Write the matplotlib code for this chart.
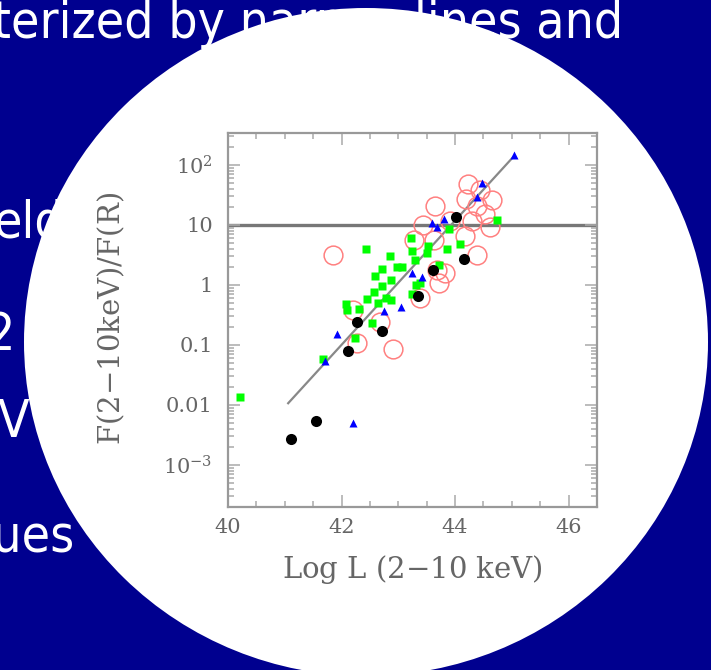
import matplotlib.pyplot as plt
from matplotlib.patches import Ellipse
from matplotlib.ticker import FixedLocator, LogLocator, MultipleLocator, NullFormatter

# Puntos del diagrama (log L, cociente de flujos)
negros_x = [41.11, 41.55, 42.11, 42.27, 42.72, 43.34, 43.61, 44.16, 44.02]
negros_y = [0.0027, 0.0055, 0.078, 0.24, 0.17, 0.66, 1.76, 2.7, 13.5]

azules_x = [45.04, 44.48, 44.39, 43.81, 43.59, 43.68, 43.24, 43.42, 43.05, 42.75, 41.92, 41.70, 42.21]
azules_y = [148, 51, 29, 12.6, 10.7, 9.1, 1.57, 1.35, 0.43, 0.37, 0.15, 0.055, 0.0051]

verdes_x = [40.21, 44.73, 43.90, 44.09, 43.85, 43.53, 43.50, 43.22, 43.24, 43.30,
            42.43, 42.85, 42.97, 43.06, 42.71, 42.59, 42.88, 42.72, 42.57, 42.44,
            43.71, 43.38, 43.24, 42.78, 42.88, 42.65, 42.08, 42.09, 42.31, 42.53,
            42.24, 41.68, 43.32]
verdes_y = [0.0138, 12.3, 8.5, 4.9, 4.0, 4.4, 3.4, 6.0, 3.7, 2.6,
            4.0, 3.0, 2.0, 2.0, 1.82, 1.43, 1.2, 0.95, 0.76, 0.59,
            2.14, 1.07, 0.72, 0.6, 0.56, 0.51, 0.49, 0.39, 0.4, 0.23,
            0.13, 0.058, 1.0]

rojos_x = [41.85, 42.91, 42.27, 42.68, 42.21, 43.38, 43.71, 43.82, 44.38, 43.27,
           43.65, 43.44, 44.23, 44.20, 44.65, 44.53, 44.62, 44.29, 44.18, 43.91,
           44.38, 44.44, 43.62, 43.68]
rojos_y = [3.2, 0.087, 0.107, 0.245, 0.38, 0.6, 1.07, 1.57, 3.2, 5.6,
           20.4, 10.0, 49, 27.5, 26.3, 15.5, 9.3, 11.5, 6.5, 11.5,
           20.4, 38, 5.6, 1.78]

# Recta de ajuste y límite horizontal
recta_x = [41.06, 45.03]
recta_y = [0.0107, 138]
limite_y = 10

# Ejes
ticks_y = [1e-3, 1e-2, 1e-1, 1, 10, 100]
etiquetas_y = [r'$10^{-3}$', '0.01', '0.1', '1', '10', r'$10^{2}$']
ticks_x = [40, 42, 44, 46]

azul = '#00008f'
gris = '#777777'

plt.rcParams['mathtext.fontset'] = 'dejavuserif'

fig = plt.figure(figsize=(7.11, 6.70), dpi=100, facecolor=azul)

# Fondo: texto de la diapositiva y la elipse blanca
fondo = fig.add_axes([0, 0, 1, 1])
fondo.set_xlim(0, 711)
fondo.set_ylim(670, 0)
fondo.axis('off')
fuente = dict(color='white', fontsize=37, family='DejaVu Sans',
              fontstretch='condensed', va='baseline')
fondo.text(623, 38, 'characterized by narrow lines and', ha='right', **fuente)
fondo.text(-6, 237, 'eld', ha='left', **fuente)
fondo.text(-14, 350, '2', ha='left', **fuente)
fondo.text(-2, 437, 'V', ha='left', **fuente)
fondo.text(-36, 552, 'gues', ha='left', **fuente)
fondo.add_patch(Ellipse((366, 342), 684, 668, facecolor='white',
                        edgecolor='none', zorder=5))

# Diagrama
ax = fig.add_axes([228 / 711, 1 - 507 / 670, 369 / 711, 374 / 670])
ax.set_facecolor('white')
ax.set_yscale('log')
ax.set_xlim(40, 46.5)
ax.set_ylim(10 ** -3.7, 10 ** 2.533)

ax.axhline(limite_y, color=gris, lw=2.4, zorder=1)
ax.plot(recta_x, recta_y, color='#888888', lw=1.6, zorder=1)

ax.plot(rojos_x, rojos_y, 'o', ms=13.5, mfc='none', mec='#ff8080', mew=1.1, zorder=2)
ax.plot(verdes_x, verdes_y, 's', ms=6, color='#00ff00', mec='none', zorder=3)
ax.plot(azules_x, azules_y, '^', ms=5.5, color='#0000ff', mec='none', zorder=4)
ax.plot(negros_x, negros_y, 'o', ms=8, color='black', mec='none', zorder=5)

ax.xaxis.set_major_locator(FixedLocator(ticks_x))
ax.xaxis.set_minor_locator(MultipleLocator(0.5))
ax.yaxis.set_major_locator(FixedLocator(ticks_y))
ax.set_yticklabels(etiquetas_y)
ax.yaxis.set_minor_locator(LogLocator(base=10, subs=range(2, 10), numticks=20))
ax.yaxis.set_minor_formatter(NullFormatter())

ax.tick_params(which='both', direction='in', top=True, right=True,
               color='#aaaaaa', width=1.1, labelcolor='#666666')
ax.tick_params(which='major', length=8.5, labelsize=15)
ax.tick_params(which='minor', length=4.3)
ax.tick_params(axis='y', which='major', pad=11)
ax.tick_params(axis='x', which='major', pad=8)
for t in ax.get_xticklabels() + ax.get_yticklabels():
    t.set_family('DejaVu Serif')
for s in ax.spines.values():
    s.set_color('#999999')
    s.set_linewidth(1.6)

ax.set_xlabel('Log L (2$-$10 keV)', family='DejaVu Serif', fontsize=21, color='#666666')
ax.set_ylabel('F(2$-$10keV)/F(R)', family='DejaVu Serif', fontsize=21, color='#666666')
ax.xaxis.set_label_coords(0.499, -0.123)
ax.yaxis.set_label_coords(-0.274, 0.505)

fig.savefig('out.png', dpi=100, facecolor=azul)
